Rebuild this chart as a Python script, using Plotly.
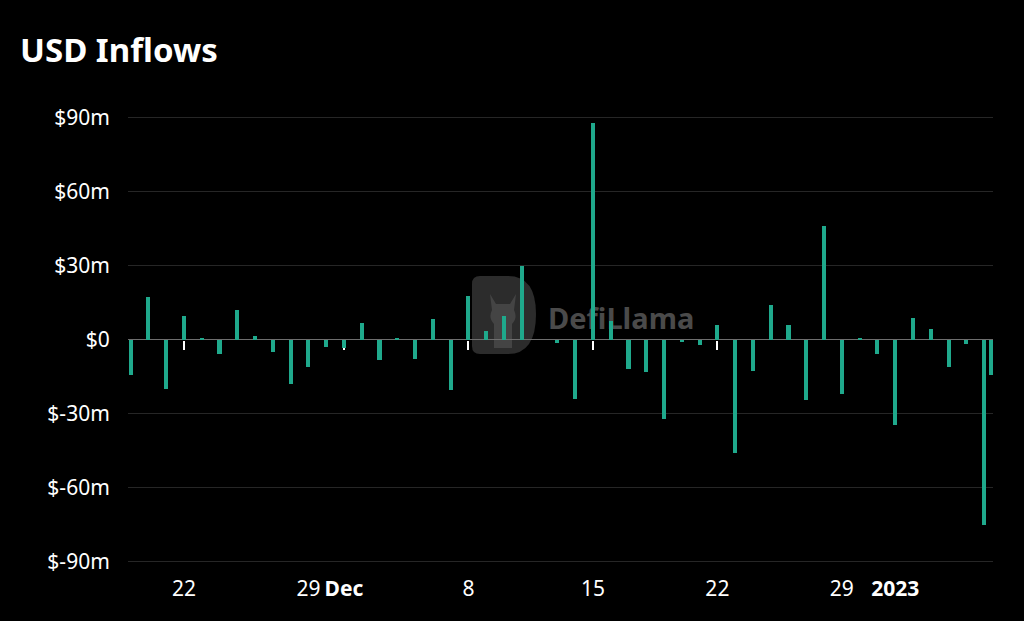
import plotly.graph_objects as go
import base64

# ---- data (USD millions) ----
dates = [
    "2022-11-19", "2022-11-20", "2022-11-21", "2022-11-22", "2022-11-23", "2022-11-24",
    "2022-11-25", "2022-11-26", "2022-11-27", "2022-11-28", "2022-11-29", "2022-11-30",
    "2022-12-01", "2022-12-02", "2022-12-03", "2022-12-04", "2022-12-05", "2022-12-06",
    "2022-12-07", "2022-12-08", "2022-12-09", "2022-12-10", "2022-12-11", "2022-12-12",
    "2022-12-13", "2022-12-14", "2022-12-15", "2022-12-16", "2022-12-17", "2022-12-18",
    "2022-12-19", "2022-12-20", "2022-12-21", "2022-12-22", "2022-12-23", "2022-12-24",
    "2022-12-25", "2022-12-26", "2022-12-27", "2022-12-28", "2022-12-29", "2022-12-30",
    "2022-12-31", "2023-01-01", "2023-01-02", "2023-01-03", "2023-01-04", "2023-01-05",
    "2023-01-06", "2023-01-06 09:00",
]
inflows = [
    -14.2, 17.3, -20.2, 9.7, 0.3, -5.9,
    12.1, 1.3, -4.9, -18.0, -11.0, -3.1,
    -3.6, 6.6, -8.5, 0.8, -7.8, 8.2,
    -20.3, 17.5, 3.4, 9.4, 29.6, 0.0,
    -1.3, -24.3, 87.9, 7.7, -11.9, -13.2,
    -32.1, -1.1, -2.3, 5.7, -46.2, -12.9,
    14.0, 5.7, -24.5, 46.1, -22.0, 0.3,
    -5.7, -34.6, 8.6, 4.4, -11.0, -1.7,
    -75.2, -14.3,
]
x_tick_vals = ["2022-11-22", "2022-11-29", "2022-12-01", "2022-12-08", "2022-12-15",
               "2022-12-22", "2022-12-29", "2023-01-01"]
x_tick_text = ["22", "29", "<b>Dec</b>", "8", "15", "22", "29", "<b>2023</b>"]
y_tick_vals = [-90, -60, -30, 0, 30, 60, 90]
y_tick_text = ["$-90m", "$-60m", "$-30m", "$0", "$30m", "$60m", "$90m"]

BAR = "#1fa98c"
FONT = "Noto Sans, Open Sans, sans-serif"
DAY_MS = 86400000

fig = go.Figure()
fig.add_trace(go.Bar(
    x=dates, y=inflows, marker=dict(color=BAR, line=dict(width=0)),
    width=[0.23 * DAY_MS] * len(dates), xaxis="x", yaxis="y",
))

# watermark (behind bars)
svg = """<svg xmlns='http://www.w3.org/2000/svg' width='240' height='90' viewBox='0 0 240 90'>
<path d='M4 10 Q4 2 12 2 L40 2 Q68 2 68 40 Q68 80 40 80 L12 80 Q4 80 4 72 Z' fill='#2c2c2c'/>
<path d='M22 20 L28 30 L42 30 L48 20 L46 36 Q50 44 44 50 L44 74 L26 74 L26 50 Q20 44 24 36 Z' fill='#444'/>
<text x='80' y='55' font-family='Noto Sans, DejaVu Sans, sans-serif' font-weight='bold' font-size='29' fill='#4a4a4a'>DefiLlama</text>
</svg>"""
src = "data:image/svg+xml;base64," + base64.b64encode(svg.encode()).decode()
fig.add_layout_image(dict(
    source=src, xref="paper", yref="paper",
    x=(468 - 128) / 865, y=(564 - 274) / 449, sizex=240 / 865, sizey=90 / 449,
    xanchor="left", yanchor="top", sizing="stretch", layer="below", opacity=1,
))

fig.update_layout(
    width=1024, height=621,
    paper_bgcolor="#000000", plot_bgcolor="#000000",
    margin=dict(l=128, r=31, t=115, b=57),
    showlegend=False,
    bargap=0,
    title=dict(text="<b>USD Inflows</b>", x=20 / 1024, xanchor="left",
               y=1 - 50 / 621, yanchor="middle",
               font=dict(family=FONT, size=33, color="#ffffff")),
    font=dict(family=FONT, color="#ffffff"),
    xaxis=dict(
        type="date", range=["2022-11-18 20:30", "2023-01-06 12:00"],
        tickvals=x_tick_vals, ticktext=x_tick_text,
        showgrid=False, zeroline=False, showline=False,
        ticks="outside", ticklen=6, tickcolor="rgba(0,0,0,0)",
        tickfont=dict(family=FONT, size=21, color="#ffffff"),
    ),
    xaxis2=dict(
        type="date", overlaying="x", matches="x", anchor="free", position=0.5,
        side="bottom", tickvals=x_tick_vals, showticklabels=False,
        showgrid=False, zeroline=False, showline=False,
        ticks="outside", ticklen=9, tickwidth=1.5, tickcolor="#ffffff",
        layer="below traces",
    ),
    yaxis=dict(
        range=[-91, 91], tickvals=y_tick_vals, ticktext=y_tick_text,
        showgrid=True, gridcolor="#262626", gridwidth=1,
        zeroline=True, zerolinecolor="#6e6e6e", zerolinewidth=1,
        ticks="outside", ticklen=13, tickcolor="rgba(0,0,0,0)",
        tickfont=dict(family=FONT, size=21, color="#ffffff"),
    ),
)
# invisible trace to activate xaxis2
fig.add_trace(go.Scatter(x=[dates[0]], y=[None], xaxis="x2", yaxis="y",
                         mode="markers", hoverinfo="skip"))

fig.write_html(
    "out.html",
    config={"displayModeBar": False},
    post_script="document.body.style.margin='0';document.body.style.background='#000';",
)
